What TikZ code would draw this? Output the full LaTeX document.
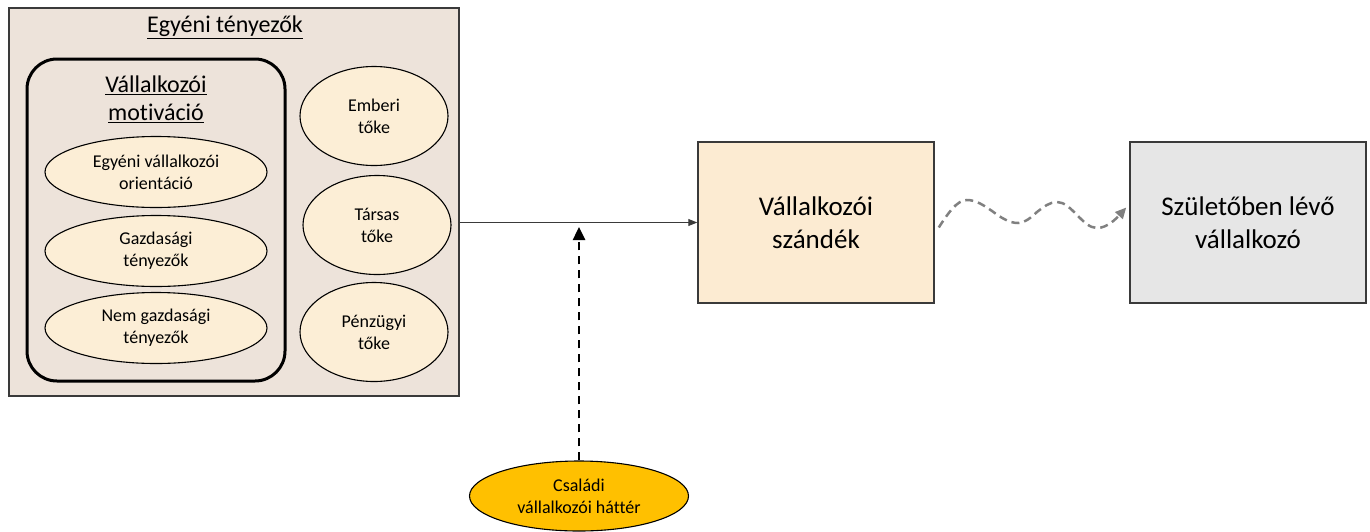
\documentclass[tikz,border=0pt]{standalone}
\usepackage{fontspec}
\setmainfont{Carlito}[Ligatures={NoCommon}]
\usetikzlibrary{arrows.meta,shapes.geometric,positioning}

\definecolor{frameBg}{HTML}{EDE3DA}
\definecolor{ovalFill}{HTML}{FCEED6}
\definecolor{intentFill}{HTML}{FCEBD2}
\definecolor{nascentFill}{HTML}{E6E6E6}
\definecolor{familyFill}{HTML}{FFC000}
\definecolor{edgeGray}{HTML}{3A3A3A}
\definecolor{waveGray}{HTML}{808080}

\begin{document}
\begin{tikzpicture}[x=1pt, y=-1pt, >=Triangle,
  frame/.style={draw=edgeGray, line width=1.5pt, fill=frameBg, minimum width=450, minimum height=388},
  motivbox/.style={draw=black, line width=3pt, rounded corners=30pt, minimum width=258, minimum height=322},
  oval/.style={ellipse, draw=black, line width=1.1pt, fill=ovalFill, inner sep=0pt, align=center,
    font=\fontsize{18}{22}\selectfont},
  stage/.style={draw=edgeGray, line width=1.5pt, minimum width=236, minimum height=161, align=center,
    font=\fontsize{27}{33}\selectfont},
  heading/.style={align=center, font=\fontsize{24}{28}\selectfont}]

  \useasboundingbox (0,0) rectangle (1370,531);

  % individual factors
  \node[frame] (egyeni) at (234,202) {};
  \node[heading] (title) at (225,27) {\underline{Egyéni tényezők}};

  % motivation block
  \node[motivbox] (motiv) at (156,220) {};
  \node[heading] (motivtitle) at (156,99) {\underline{Vállalkozói}\\\underline{motiváció}};
  \node[oval, minimum width=222, minimum height=71] (orient) at (156,172) {Egyéni vállalkozói\\orientáció};
  \node[oval, minimum width=222, minimum height=71] (gazd) at (156,251) {Gazdasági\\tényezők};
  \node[oval, minimum width=222, minimum height=71] (nemgazd) at (156,328) {Nem gazdasági\\tényezők};

  % capitals
  \node[oval, minimum width=148, minimum height=99] (emberi) at (374,116) {Emberi\\tőke};
  \node[oval, minimum width=148, minimum height=99] (tarsas) at (377,225) {Társas\\tőke};
  \node[oval, minimum width=148, minimum height=99] (penz) at (374,332) {Pénzügyi\\tőke};

  % intention and nascent
  \node[stage, fill=intentFill] (intent) at (816,222.5) {Vállalkozói\\szándék};
  \node[stage, fill=nascentFill] (nascent) at (1248,222.5) {Születőben lévő\\vállalkozó};

  % family background
  \node[oval, fill=familyFill, minimum width=219, minimum height=70] (family) at (579,496) {Családi\\vállalkozói háttér};
  \coordinate (merge) at (579,227);

  \draw[draw=edgeGray, line width=1pt, arrows={-Triangle[length=9pt, width=7pt]}]
    (egyeni.east |- intent.west) -- (intent.west);
  \draw[line width=2.5pt, dash pattern=on 8pt off 6pt, arrows={-Triangle[length=13pt, width=12pt]}]
    (family.north) -- (merge);

  % wavy link
  \draw[waveGray, line width=2.5pt, dash pattern=on 8pt off 5pt, arrows={-Triangle[length=11pt, width=10pt]}]
    ([shift={(4,5)}]intent.east) sin (967,200) cos (992,211) sin (1018,223) cos (1037,212)
    sin (1057,202) cos (1077,215) sin (1097,228) cos ([shift={(-3,-15)}]nascent.west);
\end{tikzpicture}
\end{document}
